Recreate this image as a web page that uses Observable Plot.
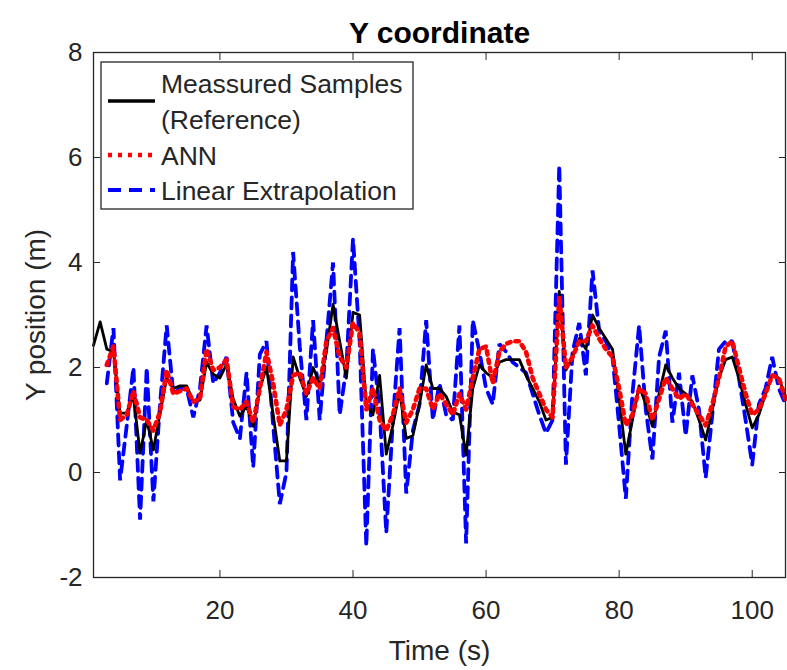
<!DOCTYPE html>
<html>
<head>
<meta charset="utf-8">
<script src="https://cdn.jsdelivr.net/npm/d3@7"></script>
<script src="https://cdn.jsdelivr.net/npm/@observablehq/plot@0.6"></script>
<style>
  html, body { margin: 0; padding: 0; background: #ffffff; }
  #chart { width: 787px; height: 670px; }
</style>
</head>
<body>
<div id="chart"></div>
<script>
// ---- data ----
const titleText = "Y coordinate";
const xLabel = "Time (s)";
const yLabel = "Y position (m)";
const xTicks = [20, 40, 60, 80, 100];
const yTicks = [-2, 0, 2, 4, 6, 8];
const xDomain = [1, 105];
const yDomain = [-2, 8];
const seriesNames = ["Meassured Samples\n(Reference)", "ANN", "Linear Extrapolation"];

// Measured samples, t = 1..105
const measured = [
  2.42, 2.87, 2.35, 2.30, 1.13, 1.13, 1.46, 0.37, 1.00, 0.43,
  1.13, 1.80, 1.60, 1.65, 1.65, 1.35, 1.38, 2.10, 1.87, 1.80,
  2.06, 1.40, 1.07, 1.27, 0.88, 1.60, 2.00, 1.10, 0.22, 0.22,
  2.20, 1.80, 1.45, 2.00, 1.70, 2.30, 3.20, 2.50, 1.80, 3.05,
  3.00, 1.30, 1.10, 1.85, 0.35, 0.90, 1.55, 0.65, 0.70, 1.30,
  2.05, 1.60, 1.60, 1.45, 1.15, 1.10, 0.33, 1.60, 2.05, 1.90,
  1.80, 2.10, 2.15, 2.15, 2.15, 1.85, 1.60, 1.35, 1.00, 1.05,
  3.45, 1.95, 2.20, 2.55, 2.35, 3.00, 2.75, 2.55, 2.35, 1.40,
  0.35, 1.00, 1.65, 1.30, 0.88, 1.50, 2.05, 1.80, 1.60, 1.50,
  1.35, 1.00, 0.62, 1.20, 1.80, 2.15, 2.20, 1.80, 1.30, 0.85,
  1.10, 1.50, 1.85, 1.80, 1.45
];
const measuredStart = 1;

// ANN prediction, t = 3..105
const ann = [
  2.05, 2.40, 1.00, 1.10, 1.55, 1.05, 1.00, 0.80, 1.15, 1.95,
  1.50, 1.55, 1.60, 1.35, 1.40, 2.35, 1.95, 2.00, 2.15, 1.25,
  1.20, 1.35, 0.95, 1.60, 2.30, 1.70, 0.90, 1.20, 1.85, 1.90,
  1.50, 1.80, 1.60, 2.50, 2.75, 2.20, 2.00, 2.85, 2.65, 1.20,
  1.60, 1.00, 0.80, 1.10, 1.60, 0.95, 1.20, 1.60, 1.60, 1.20,
  1.50, 1.30, 1.10, 1.50, 1.20, 1.80, 2.35, 2.40, 1.70, 2.30,
  2.45, 2.50, 2.50, 2.30, 1.80, 1.50, 1.20, 1.05, 3.35, 2.00,
  2.20, 2.50, 2.50, 2.80, 2.55, 2.35, 2.20, 1.60, 0.90, 1.10,
  1.60, 1.50, 1.00, 1.40, 1.80, 1.60, 1.40, 1.50, 1.30, 1.10,
  0.90, 1.30, 1.80, 2.40, 2.50, 2.00, 1.50, 1.10, 1.20, 1.50,
  1.85, 1.80, 1.40
];
const annStart = 3;

// Linear extrapolation, t = 3..105
const linear = [
  1.70, 2.75, -0.15, 0.90, 2.00, -0.90, 2.00, -0.55, 1.30, 2.80,
  1.50, 1.60, 1.60, 1.05, 1.60, 2.80, 1.70, 1.90, 2.20, 0.95,
  0.65, 1.90, 0.10, 2.25, 2.50, 0.90, -0.60, 0.00, 4.20, 2.40,
  1.00, 2.90, 1.00, 2.50, 4.00, 1.10, 2.00, 4.45, 2.50, -1.40,
  2.35, 1.20, -1.15, 1.00, 2.75, -0.40, 0.80, 1.30, 2.90, 1.00,
  1.70, 1.10, 1.00, 2.80, -1.35, 2.90, 2.30, 1.60, 1.30, 2.45,
  2.30, 2.10, 2.00, 1.90, 1.50, 1.10, 0.75, 1.00, 5.85, 0.15,
  2.30, 2.85, 1.85, 3.85, 2.70, 2.50, 2.20, 0.90, -0.50, 1.50,
  2.80, 1.20, 0.25, 2.20, 2.70, 0.95, 1.90, 0.70, 1.85, 1.20,
  -0.10, 1.10, 2.35, 2.50, 2.50, 1.80, 1.00, 0.15, 1.30, 1.60,
  2.20, 1.60, 1.30
];
const linearStart = 3;

// ---- tables for Plot ----
const toRows = (vals, start) => vals.map((v, i) => ({t: start + i, v}));
const measuredRows = toRows(measured, measuredStart);
const annRows = toRows(ann, annStart);
const linearRows = toRows(linear, linearStart);

const ink = "#262626";
const colors = {measured: "#000000", ann: "#ff0000", linear: "#0000ff"};
const fontFamily = "'Liberation Sans', Arial, Helvetica, sans-serif";
const tickFmt = d => String(d);

const chart = Plot.plot({
  width: 787,
  height: 670,
  marginLeft: 93,
  marginRight: 2,
  marginTop: 52,
  marginBottom: 93,
  style: {fontFamily, fontSize: "26px", color: ink, background: "#ffffff", overflow: "visible"},
  x: {domain: xDomain},
  y: {domain: yDomain},
  marks: [
    Plot.line(linearRows, {x: "t", y: "v", stroke: colors.linear, strokeWidth: 3.8, strokeDasharray: "11,7", strokeLinejoin: "miter"}),
    Plot.line(measuredRows, {x: "t", y: "v", stroke: colors.measured, strokeWidth: 2.8}),
    Plot.line(annRows, {x: "t", y: "v", stroke: colors.ann, strokeWidth: 4.6, strokeDasharray: "3.5,5"}),
    Plot.frame({stroke: ink, strokeWidth: 1.3}),
    Plot.axisX(xTicks, {anchor: "bottom", tickSize: -7, tickPadding: 30, tickFormat: tickFmt, label: null, stroke: ink, fontSize: 26}),
    Plot.axisX(xTicks, {anchor: "top", tickSize: -7, tickFormat: () => "", label: null, stroke: ink}),
    Plot.axisY(yTicks, {anchor: "left", tickSize: -7, tickPadding: 18, tickFormat: tickFmt, label: null, stroke: ink, fontSize: 26}),
    Plot.axisY(yTicks, {anchor: "right", tickSize: -7, tickFormat: () => "", label: null, stroke: ink}),
    Plot.text([titleText], {frameAnchor: "top", dy: -19, lineAnchor: "middle", textAnchor: "middle", fontWeight: "bold", fontSize: 30, fill: "#000"}),
    Plot.text([xLabel], {frameAnchor: "bottom", dy: 74, lineAnchor: "middle", textAnchor: "middle", fontSize: 28, fill: ink}),
    Plot.text([yLabel], {frameAnchor: "left", dx: -57, rotate: -90, lineAnchor: "middle", textAnchor: "middle", fontSize: 28, fill: ink})
  ]
});

// ---- legend (drawn into the same SVG) ----
const svg = d3.select(chart);
const lg = svg.append("g").attr("font-family", fontFamily).attr("font-size", 26.5).attr("fill", ink).attr("text-anchor", "start");
lg.append("rect").attr("x", 101).attr("y", 62).attr("width", 312).attr("height", 147)
  .attr("fill", "#ffffff").attr("stroke", ink).attr("stroke-width", 1.3);
const legendItems = [
  {name: seriesNames[0], color: colors.measured, width: 3.5, dash: null, lineY: 101, textY: 93},
  {name: seriesNames[1], color: colors.ann, width: 4.6, dash: "4,6", lineY: 155, textY: 165},
  {name: seriesNames[2], color: colors.linear, width: 3.8, dash: "13,8", lineY: 190, textY: 200}
];
legendItems.forEach(it => {
  const l = lg.append("line").attr("x1", 108).attr("x2", 155).attr("y1", it.lineY).attr("y2", it.lineY)
    .attr("stroke", it.color).attr("stroke-width", it.width);
  if (it.dash) l.attr("stroke-dasharray", it.dash);
  const lines = it.name.split("\n");
  const t = lg.append("text").attr("x", 161).attr("y", it.textY).attr("text-anchor", "start");
  lines.forEach((s, i) => t.append("tspan").attr("x", 161).attr("dy", i === 0 ? 0 : 36).text(s));
});

document.getElementById("chart").appendChild(chart);
</script>
</body>
</html>
